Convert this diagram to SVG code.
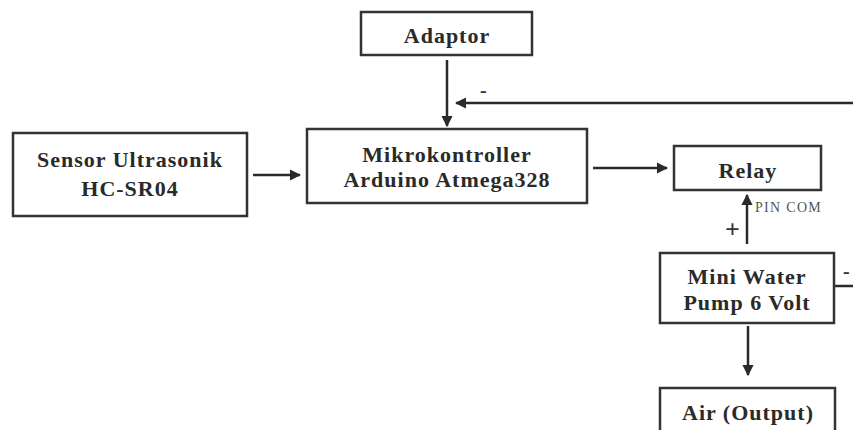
<svg xmlns="http://www.w3.org/2000/svg" width="853" height="430" viewBox="0 0 853 430">
<style>
.box{fill:#fff;stroke:#333;stroke-width:2.5}
.t{font-family:"Liberation Serif","Times New Roman",serif;font-weight:bold;font-size:22px;letter-spacing:1px;fill:#2a2a2a;text-anchor:middle}
.s{font-family:"Liberation Serif","Times New Roman",serif;font-size:14px;letter-spacing:1.3px;fill:#555}
.l{font-family:"Liberation Serif","Times New Roman",serif;font-weight:bold;font-size:20px;fill:#333}
.c{stroke:#2a2a2a;stroke-width:2.5;fill:none}
</style>
<defs>
<marker id="ah" viewBox="0 0 10 10" refX="9" refY="5" markerWidth="4.5" markerHeight="4.5" orient="auto" markerUnits="strokeWidth">
<path d="M0,0 L10,5 L0,10 z" fill="#2a2a2a"/>
</marker>
</defs>
<rect width="853" height="430" fill="#fff"/>
<g id="connectors">
<line class="c" x1="447" y1="60" x2="447" y2="126" marker-end="url(#ah)"/>
<line class="c" x1="853" y1="103" x2="456" y2="103" marker-end="url(#ah)"/>
<line class="c" x1="253" y1="175" x2="300" y2="175" marker-end="url(#ah)"/>
<line class="c" x1="593" y1="168" x2="667" y2="168" marker-end="url(#ah)"/>
<line class="c" x1="747" y1="244" x2="747" y2="195" marker-end="url(#ah)"/>
<line class="c" x1="834" y1="286" x2="853" y2="286"/>
<line class="c" x1="748" y1="326" x2="748" y2="375" marker-end="url(#ah)"/>
<text class="l" x="480" y="97">-</text>
<text class="l" x="725" y="238" style="font-size:26px">+</text>
<text class="l" x="843" y="278">-</text>
<text class="s" x="755" y="212">PIN COM</text>
</g>
<g id="adaptor">
<rect class="box" x="361" y="12" width="171" height="43"/>
<text class="t" x="447" y="43">Adaptor</text>
</g>
<g id="sensor">
<rect class="box" x="13" y="133" width="234" height="83"/>
<text class="t" x="130" y="167">Sensor Ultrasonik</text>
<text class="t" x="130" y="196">HC-SR04</text>
</g>
<g id="mikro">
<rect class="box" x="307" y="129" width="280" height="74"/>
<text class="t" x="447" y="162">Mikrokontroller</text>
<text class="t" x="447" y="187">Arduino Atmega328</text>
</g>
<g id="relay">
<rect class="box" x="674" y="146" width="147" height="44"/>
<text class="t" x="748" y="178">Relay</text>
</g>
<g id="pump">
<rect class="box" x="660" y="253" width="174" height="70"/>
<text class="t" x="747" y="284">Mini Water</text>
<text class="t" x="747" y="310">Pump 6 Volt</text>
</g>
<g id="air">
<rect class="box" x="660" y="388" width="175" height="50"/>
<text class="t" x="748" y="420">Air (Output)</text>
</g>
</svg>
